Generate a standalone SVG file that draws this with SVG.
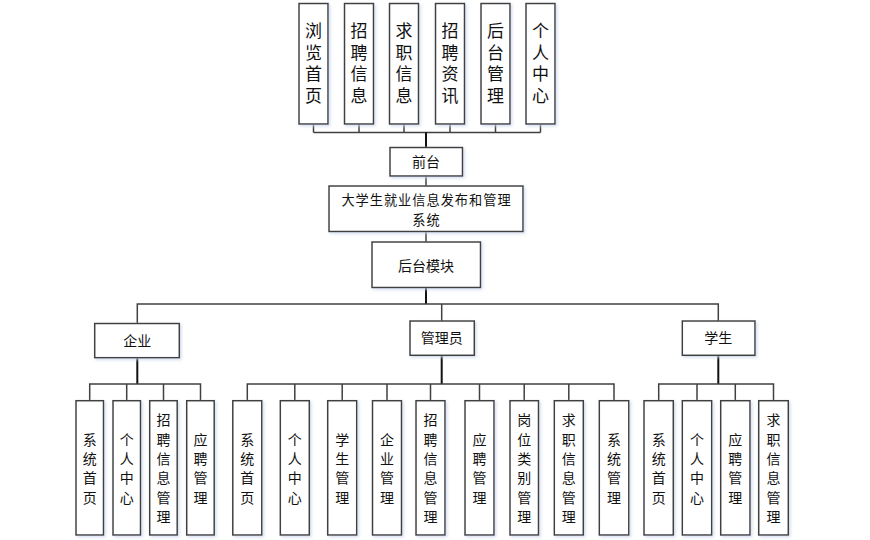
<svg xmlns="http://www.w3.org/2000/svg" width="870" height="540" viewBox="0 0 870 540">
<defs>
<filter id="sh" x="-20%" y="-20%" width="140%" height="140%">
<feDropShadow dx="1.5" dy="1.5" stdDeviation="1.5" flood-color="#c8d4ea" flood-opacity="0.8"/>
</filter>
</defs>
<style>
.b{fill:#ffffff;stroke:#404040;stroke-width:1.5;filter:url(#sh)}
.t{font-family:"Noto Sans CJK SC","Noto Sans CJK TC",sans-serif;fill:#111;text-anchor:middle}
.v{writing-mode:vertical-rl;font-size:14px;letter-spacing:5.3px}
.tt{writing-mode:vertical-rl;font-size:17px;letter-spacing:4.5px}
.th{font-size:14px}
.tm{font-size:13.2px;letter-spacing:1px}
.c{fill:none;stroke:#404040;stroke-width:1.5}
.k{fill:none;stroke:#111;stroke-width:2}
</style>
<rect width="870" height="540" fill="#ffffff"/>
<g id="connectors">
<path class="c" d="M313.5 124V132.5M359 124V132.5M404 124V132.5M450 124V132.5M495.5 124V132.5M540.5 124V132.5M313.5 132.5H540.5"/>
<path class="k" d="M426 132.5V147.5"/>
<path class="c" d="M426 176V186M426 231.5V242"/>
<path class="k" d="M426 287.5V304"/>
<path class="c" d="M137.3 323.5V304H718.3V321M441.7 304V321"/>
<path class="k" d="M137.3 357.7V384M441.7 355.3V384M718.3 355.3V384"/>
<path class="c" d="M89.7 400.7V384H200.5V400.7M126.7 384V400.7M163.5 384V400.7"/>
<path class="c" d="M247.3 400.7V384H614V400.7M294.8 384V400.7M342.2 384V400.7M387 384V400.7M430.5 384V400.7M479.5 384V400.7M524.2 384V400.7M568.8 384V400.7"/>
<path class="c" d="M658.7 400.7V384H773.5V400.7M697 384V400.7M735.3 384V400.7"/>
</g>
<g id="n-liulan"><rect class="b" x="299" y="3.5" width="29" height="120.5"/><text class="t tt" x="313.5" y="65.5">浏览首页</text></g>
<g id="n-zhaopinxinxi"><rect class="b" x="344.5" y="3.5" width="29" height="120.5"/><text class="t tt" x="359" y="65.5">招聘信息</text></g>
<g id="n-qiuzhixinxi"><rect class="b" x="389.5" y="3.5" width="29" height="120.5"/><text class="t tt" x="404" y="65.5">求职信息</text></g>
<g id="n-zhaopinzixun"><rect class="b" x="435.5" y="3.5" width="29" height="120.5"/><text class="t tt" x="450" y="65.5">招聘资讯</text></g>
<g id="n-houtaiguanli"><rect class="b" x="481" y="3.5" width="29" height="120.5"/><text class="t tt" x="495.5" y="65.5">后台管理</text></g>
<g id="n-gerenzhongxin"><rect class="b" x="526" y="3.5" width="29" height="120.5"/><text class="t tt" x="540.5" y="65.5">个人中心</text></g>
<g id="n-qiantai"><rect class="b" x="390" y="147.5" width="72.5" height="28.5"/><text class="t th" x="426" y="166.8">前台</text></g>
<g id="n-main"><rect class="b" x="329" y="186" width="194" height="45.5"/><text class="t tm" x="426.5" y="205">大学生就业信息发布和管理</text><text class="t tm" x="426.5" y="225">系统</text></g>
<g id="n-houtaimokuai"><rect class="b" x="372" y="242" width="108.5" height="45.5"/><text class="t th" x="426" y="270.8">后台模块</text></g>
<g id="n-qiye"><rect class="b" x="94.7" y="323.5" width="84.6" height="34.2"/><text class="t th" x="137.3" y="345.6">企业</text></g>
<g id="n-guanliyuan"><rect class="b" x="410" y="321" width="64.3" height="34.3"/><text class="t th" x="441.7" y="343.2">管理员</text></g>
<g id="n-xuesheng"><rect class="b" x="682.3" y="321" width="72.7" height="34.3"/><text class="t th" x="718.3" y="343.2">学生</text></g>
<g id="n-qy1"><rect class="b" x="76" y="400.7" width="27.5" height="134.3"/><text class="t v" x="89.7" y="471">系统首页</text></g>
<g id="n-qy2"><rect class="b" x="113" y="400.7" width="27.5" height="134.3"/><text class="t v" x="126.7" y="471">个人中心</text></g>
<g id="n-qy3"><rect class="b" x="149.7" y="400.7" width="27.5" height="134.3"/><text class="t v" x="163.5" y="471">招聘信息管理</text></g>
<g id="n-qy4"><rect class="b" x="186.7" y="400.7" width="27.5" height="134.3"/><text class="t v" x="200.5" y="471">应聘管理</text></g>
<g id="n-gl1"><rect class="b" x="232.8" y="400.7" width="29" height="134.3"/><text class="t v" x="247.3" y="471">系统首页</text></g>
<g id="n-gl2"><rect class="b" x="280.3" y="400.7" width="29" height="134.3"/><text class="t v" x="294.8" y="471">个人中心</text></g>
<g id="n-gl3"><rect class="b" x="327.7" y="400.7" width="29" height="134.3"/><text class="t v" x="342.2" y="471">学生管理</text></g>
<g id="n-gl4"><rect class="b" x="372.5" y="400.7" width="29" height="134.3"/><text class="t v" x="387" y="471">企业管理</text></g>
<g id="n-gl5"><rect class="b" x="416" y="400.7" width="29" height="134.3"/><text class="t v" x="430.5" y="471">招聘信息管理</text></g>
<g id="n-gl6"><rect class="b" x="465" y="400.7" width="29" height="134.3"/><text class="t v" x="479.5" y="471">应聘管理</text></g>
<g id="n-gl7"><rect class="b" x="510" y="400.7" width="28.5" height="134.3"/><text class="t v" x="524.2" y="471">岗位类别管理</text></g>
<g id="n-gl8"><rect class="b" x="554.3" y="400.7" width="29" height="134.3"/><text class="t v" x="568.8" y="471">求职信息管理</text></g>
<g id="n-gl9"><rect class="b" x="599.3" y="400.7" width="29.5" height="134.3"/><text class="t v" x="614" y="471">系统管理</text></g>
<g id="n-xs1"><rect class="b" x="644" y="400.7" width="29.3" height="134.3"/><text class="t v" x="658.7" y="471">系统首页</text></g>
<g id="n-xs2"><rect class="b" x="682.3" y="400.7" width="29.4" height="134.3"/><text class="t v" x="697" y="471">个人中心</text></g>
<g id="n-xs3"><rect class="b" x="720.7" y="400.7" width="29.3" height="134.3"/><text class="t v" x="735.3" y="471">应聘管理</text></g>
<g id="n-xs4"><rect class="b" x="758.7" y="400.7" width="29.6" height="134.3"/><text class="t v" x="773.5" y="471">求职信息管理</text></g>
</svg>
